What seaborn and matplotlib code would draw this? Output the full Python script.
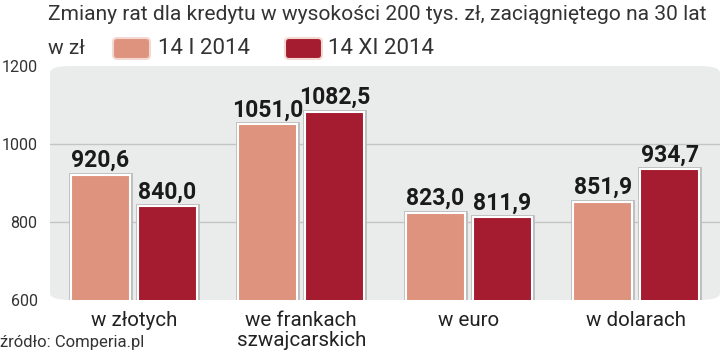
import matplotlib
matplotlib.use("Agg")
import matplotlib.pyplot as plt
import matplotlib.patheffects as pe
from matplotlib.patches import FancyBboxPatch
import seaborn as sns
import pandas as pd

categories = ["w złotych", "we frankach\nszwajcarskich", "w euro", "w dolarach"]
series_names = ["14 I 2014", "14 XI 2014"]
values_jan = [920.6, 1051.0, 823.0, 851.9]
values_nov = [840.0, 1082.5, 811.9, 934.7]
yticks = [600, 800, 1000, 1200]
title = "Zmiany rat dla kredytu w wysokości 200 tys. zł, zaciągniętego na 30 lat"
unit = "w zł"
source = "źródło: Comperia.pl"
colors = ["#DE937F", "#A51C30"]

df = pd.DataFrame({
    "kat": categories * 2,
    "seria": [series_names[0]] * 4 + [series_names[1]] * 4,
    "wartosc": values_jan + values_nov,
})

sns.set_theme(style="white")
plt.rcParams["font.family"] = ["Roboto", "DejaVu Sans"]

fig = plt.figure(figsize=(7.2, 3.56), dpi=100)
ax = fig.add_axes([50 / 720, 1 - 300 / 356, 1 - 50 / 720, (300 - 66) / 356])

sns.barplot(data=df, x="kat", y="wartosc", hue="seria", palette=colors,
            saturation=1, width=0.8, gap=0.12, ax=ax, legend=False, zorder=3,
            edgecolor="white", linewidth=1.5)

ax.set_ylim(600, 1200)
ax.set_xlim(-0.5, 3.5)
ax.set_facecolor("none")
for s in ax.spines.values():
    s.set_visible(False)

bg = FancyBboxPatch((0, 0), 1, 1, boxstyle="round,pad=0,rounding_size=0.03",
                    transform=ax.transAxes, facecolor="#EAEBEB", edgecolor="none",
                    zorder=0, clip_on=False)
ax.add_patch(bg)
for y in [800, 1000]:
    ax.axhline(y, color="#C4C4C4", lw=1, zorder=1)

for p in ax.patches:
    if p is bg:
        continue
    p.set_path_effects([pe.Stroke(linewidth=3.5, foreground="#BDBDBD"), pe.Normal()])

for cont in ax.containers:
    labels = [f"{b.get_height():.1f}".replace(".", ",") for b in cont]
    ax.bar_label(cont, labels=labels, padding=2, fontsize=16.5, fontweight="bold",
                 color="#1a1a1a")

ax.set_yticks(yticks)
ax.set_yticklabels([str(t) for t in yticks], fontsize=11.5, color="#333333")
ax.tick_params(axis="y", length=0, pad=9)
ax.tick_params(axis="x", length=0, pad=8, labelsize=14.8, labelcolor="#222222")
ax.set_xlabel("")
ax.set_ylabel("")
for lbl in ax.get_xticklabels():
    lbl.set_linespacing(1.05)
    lbl.set_verticalalignment("top")

fig.text(48 / 720, 1 - 15 / 356, title, fontsize=15.1, color="#333333",
         va="center", ha="left")
fig.text(48 / 720, 1 - 48 / 356, unit, fontsize=15, color="#333333",
         va="center", ha="left")
box_kw = dict(boxstyle="round,pad=0,rounding_size=4", transform=None,
              edgecolor="#F3D9D2", linewidth=1.5)
fig.patches.append(FancyBboxPatch((113, 356 - 59), 37, 21, facecolor=colors[0], **box_kw))
fig.patches.append(FancyBboxPatch((285, 356 - 59), 37, 21, facecolor=colors[1], **box_kw))
fig.text(158 / 720, 1 - 48 / 356, series_names[0], fontsize=16, color="#333333",
         va="center", ha="left")
fig.text(328 / 720, 1 - 48 / 356, series_names[1], fontsize=16, color="#333333",
         va="center", ha="left")
fig.text(0, 1 - 343 / 356, source, fontsize=12, color="#333333", va="center", ha="left")

fig.savefig("out.png", dpi=100)
